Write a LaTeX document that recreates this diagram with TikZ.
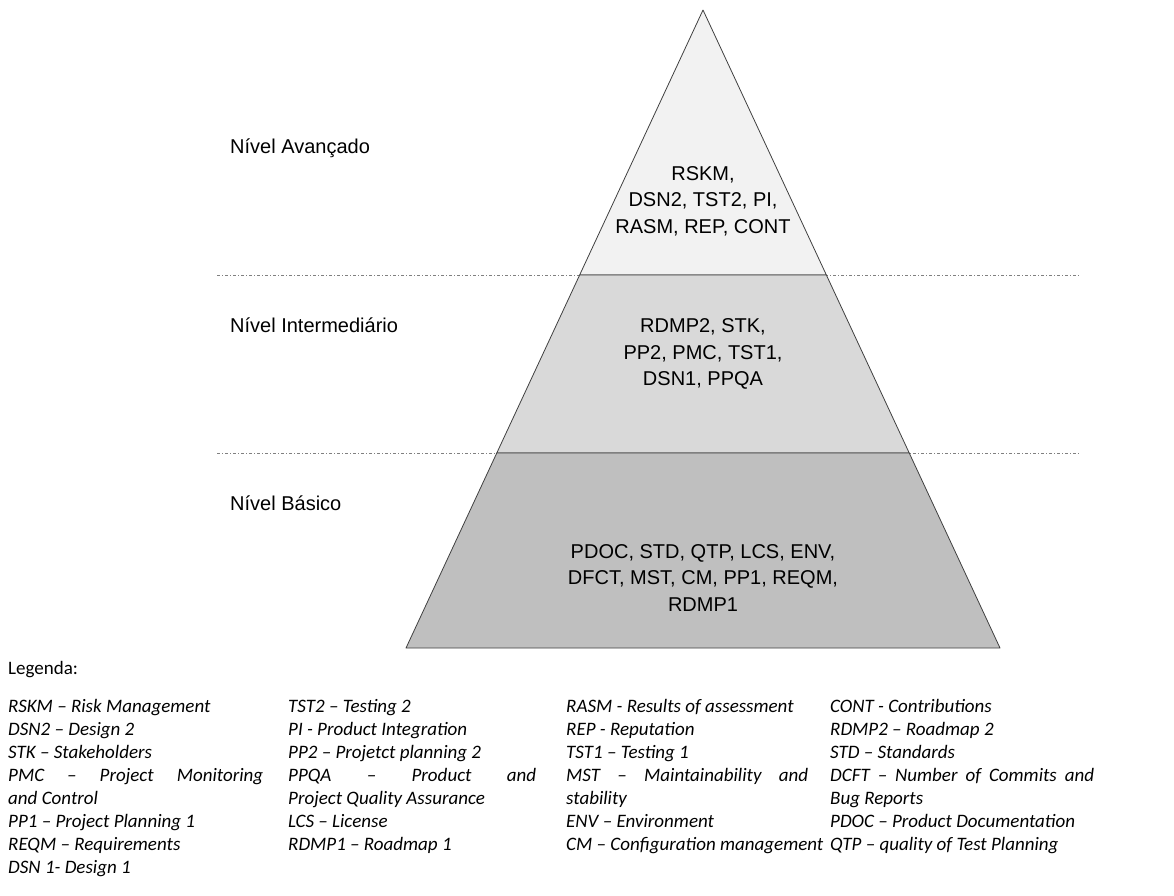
\documentclass[tikz,border=0pt]{standalone}
\usepackage{fontspec}
\setmainfont{Liberation Sans}
\newfontfamily\legendfont{Carlito}
\usetikzlibrary{calc}
\definecolor{topfill}{HTML}{F2F2F2}
\definecolor{midfill}{HTML}{D9D9D9}
\definecolor{lowfill}{HTML}{BFBFBF}
\definecolor{edge}{HTML}{404040}
\definecolor{guide}{HTML}{808080}
\tikzset{
  level/.style={draw=edge, line width=0.8pt, line join=round},
  guideline/.style={draw=guide, line width=0.9pt, dash pattern=on 3pt off 2pt on 1pt off 2pt},
  bandtext/.style={align=center, inner sep=0pt, font=\fontsize{20}{26.5}\selectfont},
  levelname/.style={anchor=west, inner sep=0pt, font=\fontsize{20}{24}\selectfont},
  legendtitle/.style={anchor=base west, inner sep=0pt, font=\legendfont\fontsize{19}{23}\selectfont},
  legendrow/.style={anchor=base west, inner sep=0pt, font=\legendfont\itshape\fontsize{19}{23}\selectfont}
}
\begin{document}
\begin{tikzpicture}[x=1pt,y=-1pt]
\useasboundingbox (0,0) rectangle (1174,895);

% pyramid corners and band boundaries
\coordinate (apex) at (703,10);
\coordinate (bl) at (406,648);
\coordinate (br) at (1000,648);
\coordinate (l1) at ($(apex)!0.4154!(bl)$);
\coordinate (r1) at ($(apex)!0.4154!(br)$);
\coordinate (l2) at ($(apex)!0.6944!(bl)$);
\coordinate (r2) at ($(apex)!0.6944!(br)$);

% level separators
\coordinate (g1a) at (217,275);
\coordinate (g1b) at (1079,275);
\coordinate (g2a) at (217,453);
\coordinate (g2b) at (1079,453);
\draw[guideline] (g1a) -- (g1b);
\draw[guideline] (g2a) -- (g2b);

% bands
\filldraw[level, fill=topfill] (apex) -- (r1) -- (l1) -- cycle;
\filldraw[level, fill=midfill] (l1) -- (r1) -- (r2) -- (l2) -- cycle;
\filldraw[level, fill=lowfill] (l2) -- (r2) -- (br) -- (bl) -- cycle;

% band contents
\node[bandtext] (adv) at (703,201) {RSKM,\\DSN2, TST2, PI,\\RASM, REP, CONT};
\node[bandtext] (mid) at (703,354) {RDMP2, STK,\\PP2, PMC, TST1,\\DSN1, PPQA};
\node[bandtext] (low) at (703,578) {PDOC, STD, QTP, LCS, ENV,\\DFCT, MST, CM, PP1, REQM,\\RDMP1};

% level names
\node[levelname] (nadv) at (230,148) {Nível Avançado};
\node[levelname] (nmid) at (230,325) {Nível Intermediário};
\node[levelname] (nlow) at (230,503) {Nível Básico};

% legend
\node[legendtitle] (leg) at (8,674) {Legenda:};

\foreach \t [count=\i from 0] in {
  {RSKM – Risk Management},
  {DSN2 – Design 2},
  {STK – Stakeholders},
  {\makebox[255pt][s]{PMC – Project Monitoring}},
  {and Control},
  {PP1 – Project Planning 1},
  {REQM – Requirements},
  {DSN 1- Design 1}}
  \node[legendrow] (c1r\i) at (8,712+23*\i) {\t};

\foreach \t [count=\i from 0] in {
  {TST2 – Testing 2},
  {PI - Product Integration},
  {PP2 – Projetct planning 2},
  {\makebox[248pt][s]{PPQA – Product and}},
  {Project Quality Assurance},
  {LCS – License},
  {RDMP1 – Roadmap 1}}
  \node[legendrow] (c2r\i) at (288,712+23*\i) {\t};

\foreach \t [count=\i from 0] in {
  {RASM - Results of assessment},
  {REP - Reputation},
  {TST1 – Testing 1},
  {\makebox[242pt][s]{MST – Maintainability and}},
  {stability},
  {ENV – Environment},
  {CM – Configuration management}}
  \node[legendrow] (c3r\i) at (566,712+23*\i) {\t};

\foreach \t [count=\i from 0] in {
  {CONT - Contributions},
  {RDMP2 – Roadmap 2},
  {STD – Standards},
  {\makebox[264pt][s]{DCFT – Number of Commits and}},
  {Bug Reports},
  {PDOC – Product Documentation},
  {QTP – quality of Test Planning}}
  \node[legendrow] (c4r\i) at (830,712+23*\i) {\t};
\end{tikzpicture}
\end{document}
